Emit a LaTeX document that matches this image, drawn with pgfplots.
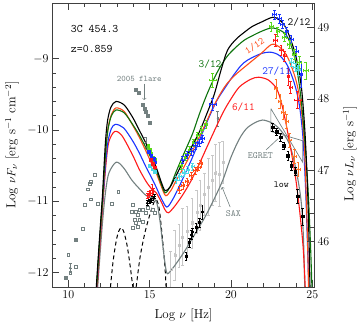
\documentclass[border=0pt]{standalone}
\usepackage{pgfplots}
\pgfplotsset{compat=1.18}
\definecolor{cgreen}{rgb}{0.05,0.45,0.05}
\definecolor{lgreen}{rgb}{0.35,0.85,0.1}
\definecolor{corange}{rgb}{1,0.3,0.1}
\definecolor{cblue}{rgb}{0.1,0.2,1}
\definecolor{cred}{rgb}{1,0.1,0.1}
\definecolor{cgray}{rgb}{0.45,0.5,0.5}
\definecolor{ccyan}{rgb}{0.3,0.85,0.9}
\definecolor{sax}{rgb}{0.78,0.78,0.78}
\definecolor{orng}{rgb}{1,0.45,0.15}

\pgfplotsset{
  errp/.style={only marks, mark=*, mark size=0.7pt, color=#1,
    error bars/.cd, x dir=both, x explicit, y dir=both, y explicit,
    error bar style={line width=0.6pt, color=#1},
    error mark options={rotate=90, mark size=1.4pt, color=#1}},
  model/.style={smooth, tension=0.5, line width=1.1pt, mark=none},
}
\tikzset{lab/.style={font=\ttfamily\fontsize{#1}{#1}\selectfont}}

\begin{document}
\begin{tikzpicture}
\begin{axis}[
  at={(0,0)}, anchor=south west, scale only axis,
  width=262pt, height=284pt,
  xmin=9, xmax=25.1, ymin=-12.2, ymax=-8.22,
  xtick={10,15,20,25}, minor x tick num=4,
  ytick={-12,-11,-10,-9}, minor y tick num=4,
  tick align=inside, xtick pos=both, ytick pos=left,
  major tick length=7pt, minor tick length=3.5pt,
  axis line style={black!75, line width=0.8pt},
  every tick/.style={black!75, line width=0.7pt},
  ticklabel style={font=\fontsize{12}{14}\selectfont},
  xlabel={Log $\nu$ [Hz]},
  ylabel={Log $\nu F_\nu$ [erg s$^{-1}$ cm$^{-2}$]},
  label style={font=\fontsize{13}{15}\selectfont},
  xlabel style={at={(axis description cs:0.502,-0.099)}, anchor=center},
  ylabel style={at={(axis description cs:-0.153,0.5)}, anchor=center},
]
% archival radio-IR
\addplot[only marks, mark=square, mark size=1.4pt, cgray] coordinates {
(11.6,-10.63) (11.4,-10.72) (11.33,-10.75) (11.19,-10.83) (11.03,-11.05)
(11.4,-10.97) (11.8,-11.03) (12.69,-11.03) (13.07,-10.87) (10.0,-11.75)
(10.47,-11.91) (10.12,-12.0) (10.88,-11.38)};
\addplot[only marks, mark=square*, mark size=1.4pt, cgray] coordinates {
(10.47,-11.54) (9.86,-12.07)};
\addplot[errp=cgray] coordinates {(10.12,-11.93) +- (0,0.06)};
% archival optical-UV
\addplot[only marks, mark=square, mark size=1.4pt, cgray] coordinates {
(13.95,-11.05) (13.92,-11.14) (14.16,-11.14) (14.36,-11.12) (14.57,-11.12)
(14.26,-11.19) (14.06,-11.26) (14.36,-11.26) (14.16,-11.3) (14.26,-11.36)
(13.95,-11.37) (14.57,-11.28) (14.77,-11.16) (14.87,-11.09) (15.18,-11.12)
(15.29,-11.16)};
% 2005 flare
\addplot[only marks, mark=square*, mark size=1.4pt, cgray] coordinates {
(14.12,-9.43) (14.32,-9.48) (14.57,-9.65) (14.69,-9.7) (14.76,-9.74)
(14.87,-9.8) (14.98,-9.9)};
\addplot[errp=cgray] coordinates {(14.77,-10.18) +- (0,0.08) (19.18,-9.84) +- (0.03,0.1)};
% SAX
\addplot[only marks, mark=square, mark size=1pt, sax,
  error bars/.cd, x dir=both, x explicit, y dir=both, y explicit,
  error bar style={sax, line width=0.6pt}, error mark options={rotate=90, mark size=1.4pt, sax}]
coordinates {
(16.3,-11.95) +- (0.05,0.25) (16.55,-11.75) +- (0.05,0.35) (16.8,-11.62) +- (0.05,0.3)
(17.0,-11.5) +- (0.05,0.4) (17.3,-11.42) +- (0.05,0.35) (17.6,-11.3) +- (0.05,0.35)
(17.9,-11.15) +- (0.05,0.3) (18.1,-11.05) +- (0.05,0.35) (18.35,-10.9) +- (0.05,0.3)
(18.6,-10.8) +- (0.05,0.4) (18.85,-10.7) +- (0.05,0.35) (19.05,-10.6) +- (0.05,0.4)
(19.3,-10.62) +- (0.05,0.45) (19.5,-10.45) +- (0.05,0.3)};
% EGRET bow tie
\addplot[cgray, line width=0.7pt] coordinates {
(22.45,-9.7) (24.4,-10.45) (24.4,-10.15) (22.45,-10.02) (22.45,-9.7)};
% torus and disk
\addplot[smooth, black, dashed, dash pattern=on 4pt off 3pt, line width=1pt] coordinates {
(12.55,-12.3) (12.75,-11.85) (12.95,-11.55) (13.1,-11.42) (13.25,-11.37)
(13.4,-11.42) (13.6,-11.6) (13.8,-11.9) (14.02,-12.3)};
\addplot[smooth, black, dashed, dash pattern=on 4pt off 3pt, line width=1pt] coordinates {
(14.12,-12.3) (14.4,-11.8) (14.7,-11.45) (14.98,-11.21) (15.29,-11.0)
(15.45,-10.99) (15.6,-11.12) (15.8,-11.55) (15.95,-11.95) (16.03,-12.3)};
% models
\addplot[model, cgray] coordinates {
(11.76,-12.35) (11.95,-11.75) (12.12,-11.25) (12.3,-10.85) (12.5,-10.6) (12.95,-10.45)
(13.4,-10.53) (13.9,-10.7) (14.36,-10.82) (14.8,-10.92) (15.18,-10.95) (15.45,-11.03)
(15.65,-11.3) (15.85,-11.7) (16.05,-12.0) (16.3,-11.97) (16.7,-11.85) (17.2,-11.68)
(17.8,-11.45) (18.4,-11.22) (19.0,-10.95) (19.5,-10.7) (20.0,-10.38) (20.5,-10.13)
(20.95,-9.98) (21.45,-9.9) (21.94,-9.86) (22.5,-9.9) (23.0,-9.99) (23.58,-10.19)
(24.0,-10.56) (24.3,-10.98) (24.45,-11.5) (24.55,-12.4)};
\addplot[model, cred] coordinates {
(11.74,-12.35) (11.92,-11.7) (12.07,-11.2) (12.2,-10.8) (12.35,-10.4) (12.5,-10.16)
(12.85,-10.02) (13.3,-10.08) (13.95,-10.35) (14.36,-10.55) (14.78,-10.72) (15.1,-10.82)
(15.4,-10.88) (15.7,-11.0) (15.95,-11.12) (16.15,-11.16) (16.5,-11.08) (17.0,-10.92)
(17.5,-10.73) (18.0,-10.5) (18.5,-10.25) (19.0,-10.0) (19.5,-9.76) (19.9,-9.6)
(20.5,-9.4) (21.2,-9.29) (21.7,-9.26) (22.3,-9.3) (22.8,-9.42) (23.1,-9.62)
(23.37,-9.9) (23.7,-10.3) (24.0,-10.72) (24.25,-11.2) (24.45,-11.7) (24.6,-12.4)};
\addplot[model, cblue] coordinates {
(11.72,-12.35) (11.9,-11.7) (12.05,-11.2) (12.17,-10.85) (12.3,-10.45) (12.45,-10.15)
(12.65,-9.98) (12.9,-9.92) (13.4,-9.97) (13.95,-10.15) (14.36,-10.32) (14.78,-10.52)
(15.1,-10.66) (15.4,-10.8) (15.7,-10.95) (16.05,-11.08) (16.4,-10.98) (16.8,-10.8)
(17.2,-10.6) (17.6,-10.4) (18.0,-10.18) (18.5,-9.9) (19.1,-9.6) (19.6,-9.42)
(20.1,-9.25) (20.6,-9.1) (21.02,-9.02) (21.84,-8.93) (22.46,-8.91) (23.0,-8.96)
(23.48,-9.1) (23.9,-9.35) (24.2,-9.65) (24.42,-10.1) (24.58,-10.8) (24.7,-11.6) (24.8,-12.4)};
\addplot[model, corange] coordinates {
(11.71,-12.35) (11.88,-11.75) (12.03,-11.25) (12.13,-10.93) (12.23,-10.55) (12.34,-10.2)
(12.46,-9.95) (12.66,-9.78) (12.93,-9.69) (13.44,-9.74) (13.95,-9.93) (14.36,-10.1)
(14.78,-10.3) (15.1,-10.46) (15.4,-10.6) (15.7,-10.78) (15.98,-10.92) (16.3,-10.85)
(16.6,-10.72) (17.03,-10.55) (17.5,-10.35) (18.05,-10.1) (18.5,-9.88) (18.9,-9.68)
(19.4,-9.47) (19.79,-9.34) (20.3,-9.22) (20.82,-9.12) (21.3,-9.03) (21.84,-8.93)
(22.5,-8.8) (23.0,-8.84) (23.48,-8.98) (23.99,-9.3) (24.3,-9.67) (24.5,-10.2)
(24.62,-10.9) (24.72,-11.7) (24.78,-12.4)};
\addplot[model, cgreen] coordinates {
(11.7,-12.35) (11.87,-11.75) (12.02,-11.25) (12.12,-10.93) (12.22,-10.55) (12.33,-10.22)
(12.45,-9.98) (12.65,-9.8) (12.93,-9.72) (13.44,-9.76) (13.95,-9.92) (14.36,-10.07)
(14.78,-10.25) (15.1,-10.4) (15.4,-10.56) (15.7,-10.75) (15.95,-10.88) (16.25,-10.8)
(16.6,-10.6) (17.03,-10.37) (17.64,-10.05) (18.05,-9.78) (18.45,-9.54) (18.87,-9.32)
(19.3,-9.13) (19.79,-8.96) (20.3,-8.84) (20.82,-8.74) (21.3,-8.68) (21.84,-8.62)
(22.46,-8.57) (22.9,-8.59) (23.37,-8.66) (23.7,-8.82) (23.99,-9.07) (24.3,-9.55)
(24.55,-10.2) (24.75,-10.9) (24.9,-11.7) (25.0,-12.4)};
\addplot[model, black] coordinates {
(11.68,-12.35) (11.85,-11.75) (12.0,-11.25) (12.1,-10.92) (12.2,-10.5) (12.3,-10.12)
(12.42,-9.86) (12.62,-9.68) (12.93,-9.6) (13.44,-9.65) (13.95,-9.82) (14.36,-10.0)
(14.78,-10.19) (15.1,-10.36) (15.4,-10.52) (15.7,-10.72) (15.95,-10.85) (16.25,-10.8)
(16.6,-10.65) (17.0,-10.47) (17.5,-10.27) (18.05,-10.03) (18.5,-9.78) (18.97,-9.5)
(19.4,-9.15) (19.79,-8.88) (20.3,-8.73) (20.82,-8.63) (21.3,-8.55) (21.84,-8.49)
(22.56,-8.42) (23.0,-8.46) (23.4,-8.58) (23.8,-8.82) (24.1,-9.08) (24.35,-9.45)
(24.55,-10.05) (24.7,-10.8) (24.8,-11.6) (24.87,-12.4)};
% optical-UV data of the campaign
\addplot[only marks, mark=square*, mark size=1.3pt, lgreen] coordinates {
(14.9,-10.22) (15.0,-10.28) (15.1,-10.33) (15.2,-10.38) (15.3,-10.42)};
\addplot[only marks, mark=square*, mark size=1.3pt, cblue] coordinates {
(14.95,-10.3) (15.1,-10.36) (15.25,-10.4) (15.35,-10.45)};
\addplot[only marks, mark=square*, mark size=1.3pt, ccyan] coordinates {
(15.0,-10.5) (15.15,-10.55) (15.3,-10.58)};
\addplot[only marks, mark=square*, mark size=1.3pt, cred] coordinates {
(15.05,-10.42) (15.2,-10.47) (15.3,-10.52)};
\addplot[errp=cred] coordinates {
(14.85,-10.92) +- (0,0.04) (14.95,-10.9) +- (0,0.04) (15.05,-10.88) +- (0,0.04)
(15.15,-10.84) +- (0,0.08) (15.25,-10.86) +- (0,0.04)};
\addplot[errp=black] coordinates {
(14.85,-11.02) +- (0,0.03) (15.0,-11.0) +- (0,0.03) (15.1,-10.98) +- (0,0.03)
(15.2,-10.96) +- (0,0.03) (15.3,-10.93) +- (0,0.03)};
% X-ray data
\addplot[errp=lgreen] coordinates {
(16.93,-10.5) +- (0.1,0.05) (17.2,-10.38) +- (0.1,0.05) (17.45,-10.28) +- (0.1,0.05)
(17.7,-10.18) +- (0.1,0.05) (17.95,-10.08) +- (0.1,0.05) (18.2,-10.0) +- (0.1,0.05)
(18.46,-9.92) +- (0.1,0.06) (18.87,-9.3) +- (0.2,0.1)};
\addplot[errp=cblue] coordinates {
(17.03,-10.42) +- (0.1,0.05) (17.3,-10.35) +- (0.1,0.05) (17.55,-10.3) +- (0.1,0.05)
(17.8,-10.22) +- (0.1,0.05) (18.05,-10.18) +- (0.1,0.05) (18.26,-10.12) +- (0.1,0.05)
(18.87,-9.64) +- (0.2,0.08)};
\addplot[errp=ccyan] coordinates {
(16.62,-10.7) +- (0.1,0.05) (16.85,-10.65) +- (0.1,0.05) (17.1,-10.6) +- (0.1,0.05)
(17.35,-10.56) +- (0.1,0.05) (17.64,-10.51) +- (0.1,0.05)};
\addplot[errp=corange] coordinates {
(16.82,-10.84) +- (0.1,0.05) (17.05,-10.78) +- (0.1,0.05) (17.3,-10.72) +- (0.1,0.05)
(17.55,-10.64) +- (0.1,0.05) (17.8,-10.57) +- (0.1,0.05) (18.0,-10.52) +- (0.1,0.05)
(18.15,-10.47) +- (0.1,0.05)};
\addplot[errp=black] coordinates {
(17.23,-11.77) +- (0.05,0.06) (17.44,-11.58) +- (0.05,0.06) (17.55,-11.47) +- (0.05,0.06)
(17.65,-11.43) +- (0.05,0.06) (17.85,-11.37) +- (0.05,0.06) (18.05,-11.3) +- (0.05,0.06)
(18.22,-11.15) +- (0.05,0.1)};
% gamma-ray data
\addplot[errp=cblue] coordinates {
(22.66,-8.38) +- (0.12,0.06) (22.97,-8.44) +- (0.12,0.06) (23.17,-8.52) +- (0.12,0.06)
(23.42,-8.62) +- (0.12,0.06) (23.69,-8.73) +- (0.12,0.06) (23.99,-8.9) +- (0.12,0.07)
(24.3,-9.22) +- (0.05,0.18)};
\addplot[errp=lgreen] coordinates {
(22.46,-8.55) +- (0.12,0.06) (22.87,-8.62) +- (0.12,0.06) (23.28,-8.7) +- (0.12,0.06)
(23.58,-8.8) +- (0.12,0.06) (23.89,-8.94) +- (0.12,0.07) (24.2,-9.05) +- (0.12,0.08)
(24.6,-9.17) +- (0.15,0.12)};
\addplot[errp=cred] coordinates {
(22.72,-8.74) +- (0.12,0.08) (23.07,-8.88) +- (0.12,0.07) (23.3,-8.96) +- (0.12,0.07)
(23.5,-9.25) +- (0.05,0.12) (23.65,-9.4) +- (0.1,0.08) (24.1,-9.58) +- (0.2,0.12)};
\addplot[errp=ccyan] coordinates {
(23.7,-9.05) +- (0.1,0.05) (23.95,-9.12) +- (0.12,0.06) (24.15,-9.16) +- (0.12,0.07)};
\addplot[errp=orng] coordinates {
(22.76,-9.42) +- (0.1,0.13) (23.0,-9.6) +- (0.1,0.1) (23.2,-9.75) +- (0.1,0.1)
(23.4,-9.88) +- (0.1,0.1) (23.6,-10.14) +- (0.1,0.1) (23.9,-10.37) +- (0.12,0.1)
(24.12,-10.55) +- (0.15,0.1)};
\addplot[only marks, mark=square*, mark size=1.3pt, black,
  error bars/.cd, x dir=both, x explicit, y dir=both, y explicit,
  error bar style={black, line width=0.6pt}, error mark options={rotate=90, mark size=1.4pt, black}]
coordinates {
(22.55,-9.96) +- (0.08,0.06) (22.8,-10.02) +- (0.08,0.05) (23.05,-10.1) +- (0.08,0.05)
(23.25,-10.22) +- (0.08,0.05) (23.5,-10.36) +- (0.08,0.06) (23.7,-10.5) +- (0.08,0.06)
(23.95,-10.58) +- (0.08,0.06) (24.1,-10.93) +- (0.08,0.1) (24.4,-11.21) +- (0.08,0.12)};
% labels
\node[lab=11.5, anchor=west] at (axis cs:9.95,-8.58) {3C 454.3};
\node[lab=11.5, anchor=west] at (axis cs:9.95,-8.87) {z=0.859};
\node[lab=8.5, cgray] at (axis cs:14.36,-9.29) {2005 flare};
\draw[cgray, ->, line width=0.6pt] (axis cs:14.67,-9.35) -- (axis cs:14.67,-9.58);
\node[lab=11] at (axis cs:24.18,-8.49) {2/12};
\node[lab=11, cgreen] at (axis cs:18.71,-9.07) {3/12};
\node[lab=10, corange, rotate=33, inner sep=0pt] at (axis cs:21.45,-8.82) {1/12};
\node[lab=11, cblue] at (axis cs:22.8,-9.17) {27/11};
\node[lab=11, cred] at (axis cs:20.76,-9.68) {6/11};
\node[lab=9.5, cgray] at (axis cs:21.8,-10.36) {EGRET};
\draw[cgray, line width=0.6pt] (axis cs:22.15,-10.28) -- (axis cs:22.9,-10.12);
\node[lab=9.5, cgray] at (axis cs:20.15,-11.17) {SAX};
\draw[cgray, ->, line width=0.6pt] (axis cs:19.95,-11.08) -- (axis cs:19.45,-10.8);
\node[lab=9.5] at (axis cs:23.09,-10.77) {low};
\end{axis}
\begin{axis}[
  at={(0,0)}, anchor=south west, scale only axis,
  width=262pt, height=284pt,
  xmin=9, xmax=25.1, ymin=45.365, ymax=49.345,
  hide x axis, axis y line*=right,
  ytick={46,47,48,49}, minor y tick num=4,
  tick align=inside, major tick length=7pt, minor tick length=3.5pt,
  axis line style={black!75, line width=0.8pt},
  every tick/.style={black!75, line width=0.7pt},
  ticklabel style={font=\fontsize{12}{14}\selectfont},
  ylabel={Log $\nu L_\nu$ [erg s$^{-1}$]},
  label style={font=\fontsize{13}{15}\selectfont},
  ylabel style={at={(axis description cs:1.137,0.47)}, anchor=center},
]
\end{axis}
\pgfresetboundingbox
\path[use as bounding box] (-52pt,-35pt) rectangle (308pt,287pt);
\end{tikzpicture}
\end{document}
